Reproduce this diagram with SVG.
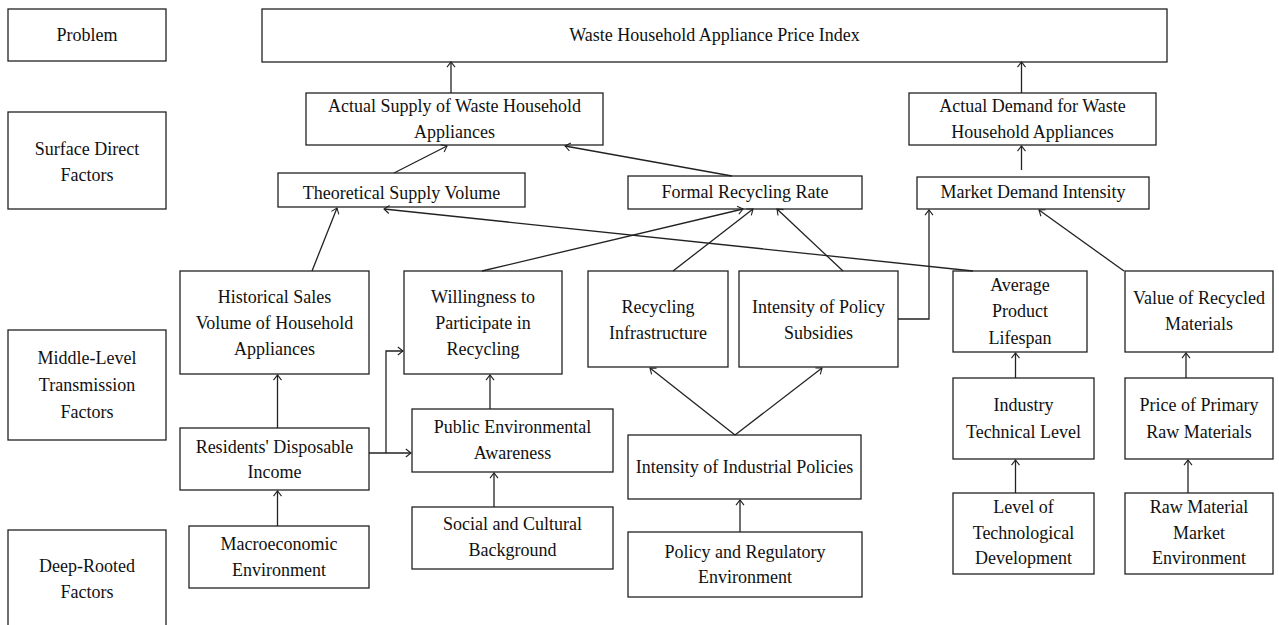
<svg xmlns="http://www.w3.org/2000/svg" width="1279" height="625" viewBox="0 0 1279 625">
<defs>
<style>
rect{fill:#fff;stroke:#222;stroke-width:1.3}
text{font-family:"Liberation Serif","Times New Roman",serif;font-size:18px;fill:#111;text-anchor:middle}
.c path{fill:none;stroke:#222;stroke-width:1.3}
</style>
<marker id="arr" viewBox="0 0 7 10" markerWidth="7" markerHeight="10" refX="6" refY="5" orient="auto" markerUnits="userSpaceOnUse">
<path d="M0.8,1 L6,5 L0.8,9" fill="none" stroke="#222" stroke-width="1.1"/>
</marker>
</defs>
<rect x="0" y="0" width="1279" height="625" style="stroke:none"/>
<g id="problem"><rect x="8" y="9" width="158" height="52"/><text x="87" y="41">Problem</text></g>
<g id="surface-label"><rect x="8" y="112" width="158" height="97"/><text x="87" y="155">Surface Direct</text><text x="87" y="181">Factors</text></g>
<g id="middle-label"><rect x="8" y="330" width="158" height="110"/><text x="87" y="364">Middle-Level</text><text x="87" y="391">Transmission</text><text x="87" y="418">Factors</text></g>
<g id="deep-label"><rect x="8" y="530" width="158" height="110"/><text x="87" y="572">Deep-Rooted</text><text x="87" y="598">Factors</text></g>
<g id="price-index"><rect x="262" y="9" width="905" height="53"/><text x="714.5" y="41">Waste Household Appliance Price Index</text></g>
<g id="actual-supply"><rect x="306" y="93" width="297" height="52"/><text x="454.5" y="112">Actual Supply of Waste Household</text><text x="454.5" y="138">Appliances</text></g>
<g id="actual-demand"><rect x="909" y="93" width="247" height="52"/><text x="1032.5" y="112">Actual Demand for Waste</text><text x="1032.5" y="138">Household Appliances</text></g>
<g id="theoretical-supply"><rect x="278" y="173" width="247" height="34"/><text x="401.5" y="199">Theoretical Supply Volume</text></g>
<g id="formal-recycling"><rect x="628" y="176" width="234" height="33"/><text x="745" y="198">Formal Recycling Rate</text></g>
<g id="market-demand"><rect x="917" y="177" width="232" height="32"/><text x="1033" y="198">Market Demand Intensity</text></g>
<g id="historical-sales"><rect x="180" y="271" width="189" height="103"/><text x="274.5" y="303">Historical Sales</text><text x="274.5" y="329">Volume of Household</text><text x="274.5" y="355">Appliances</text></g>
<g id="willingness"><rect x="404" y="271" width="158" height="103"/><text x="483" y="303">Willingness to</text><text x="483" y="329">Participate in</text><text x="483" y="355">Recycling</text></g>
<g id="recycling-infrastructure"><rect x="588" y="271" width="140" height="96"/><text x="658" y="313">Recycling</text><text x="658" y="339">Infrastructure</text></g>
<g id="policy-subsidies"><rect x="739" y="271" width="159" height="96"/><text x="818.5" y="313">Intensity of Policy</text><text x="818.5" y="339">Subsidies</text></g>
<g id="product-lifespan"><rect x="953" y="271" width="134" height="81"/><text x="1020" y="291">Average</text><text x="1020" y="317">Product</text><text x="1020" y="344">Lifespan</text></g>
<g id="recycled-value"><rect x="1125" y="271" width="148" height="81"/><text x="1199" y="304">Value of Recycled</text><text x="1199" y="330">Materials</text></g>
<g id="disposable-income"><rect x="180" y="428" width="189" height="62"/><text x="274.5" y="453">Residents' Disposable</text><text x="274.5" y="478">Income</text></g>
<g id="environmental-awareness"><rect x="412" y="409" width="201" height="63"/><text x="512.5" y="433">Public Environmental</text><text x="512.5" y="459">Awareness</text></g>
<g id="industrial-policies"><rect x="628" y="435" width="233" height="64"/><text x="744.5" y="473">Intensity of Industrial Policies</text></g>
<g id="industry-tech-level"><rect x="953" y="378" width="141" height="81"/><text x="1023.5" y="411">Industry</text><text x="1023.5" y="438">Technical Level</text></g>
<g id="primary-raw-price"><rect x="1125" y="378" width="148" height="81"/><text x="1199" y="411">Price of Primary</text><text x="1199" y="438">Raw Materials</text></g>
<g id="macroeconomic"><rect x="189" y="526" width="180" height="62"/><text x="279" y="550">Macroeconomic</text><text x="279" y="576">Environment</text></g>
<g id="social-cultural"><rect x="412" y="507" width="201" height="62"/><text x="512.5" y="530">Social and Cultural</text><text x="512.5" y="556">Background</text></g>
<g id="policy-regulatory"><rect x="628" y="532" width="234" height="65"/><text x="745" y="558">Policy and Regulatory</text><text x="745" y="583">Environment</text></g>
<g id="tech-development"><rect x="953" y="493" width="141" height="81"/><text x="1023.5" y="513">Level of</text><text x="1023.5" y="539">Technological</text><text x="1023.5" y="564">Development</text></g>
<g id="raw-material-market"><rect x="1125" y="493" width="148" height="81"/><text x="1199" y="513">Raw Material</text><text x="1199" y="539">Market</text><text x="1199" y="564">Environment</text></g>
<g id="connectors" class="c">
<path d="M451,93 V62" marker-end="url(#arr)"/>
<path d="M1021.5,93 V62" marker-end="url(#arr)"/>
<path d="M394,173 L447,146" marker-end="url(#arr)"/>
<path d="M732,176 L565,146" marker-end="url(#arr)"/>
<path d="M1021.5,170 V146" marker-end="url(#arr)"/>
<path d="M312,271 L337,208" marker-end="url(#arr)"/>
<path d="M973,271 L384,209" marker-end="url(#arr)"/>
<path d="M482,271 L743,209" marker-end="url(#arr)"/>
<path d="M673,271 L753,209" marker-end="url(#arr)"/>
<path d="M843,271 L777,209" marker-end="url(#arr)"/>
<path d="M898,319 H929 V210" marker-end="url(#arr)"/>
<path d="M1124,271 L1039,210" marker-end="url(#arr)"/>
<path d="M277.5,428 V375" marker-end="url(#arr)"/>
<path d="M277.5,526 V491" marker-end="url(#arr)"/>
<path d="M369,453 H411" marker-end="url(#arr)"/>
<path d="M386,453 V351 H403" marker-end="url(#arr)"/>
<path d="M490,409 V375" marker-end="url(#arr)"/>
<path d="M494,507 V473" marker-end="url(#arr)"/>
<path d="M735,435 L650,368" marker-end="url(#arr)"/>
<path d="M735,435 L822,368" marker-end="url(#arr)"/>
<path d="M740,532 V500" marker-end="url(#arr)"/>
<path d="M1015.5,378 V353" marker-end="url(#arr)"/>
<path d="M1015.5,493 V460" marker-end="url(#arr)"/>
<path d="M1186,378 V353" marker-end="url(#arr)"/>
<path d="M1188,493 V460" marker-end="url(#arr)"/>
</g>
</svg>
